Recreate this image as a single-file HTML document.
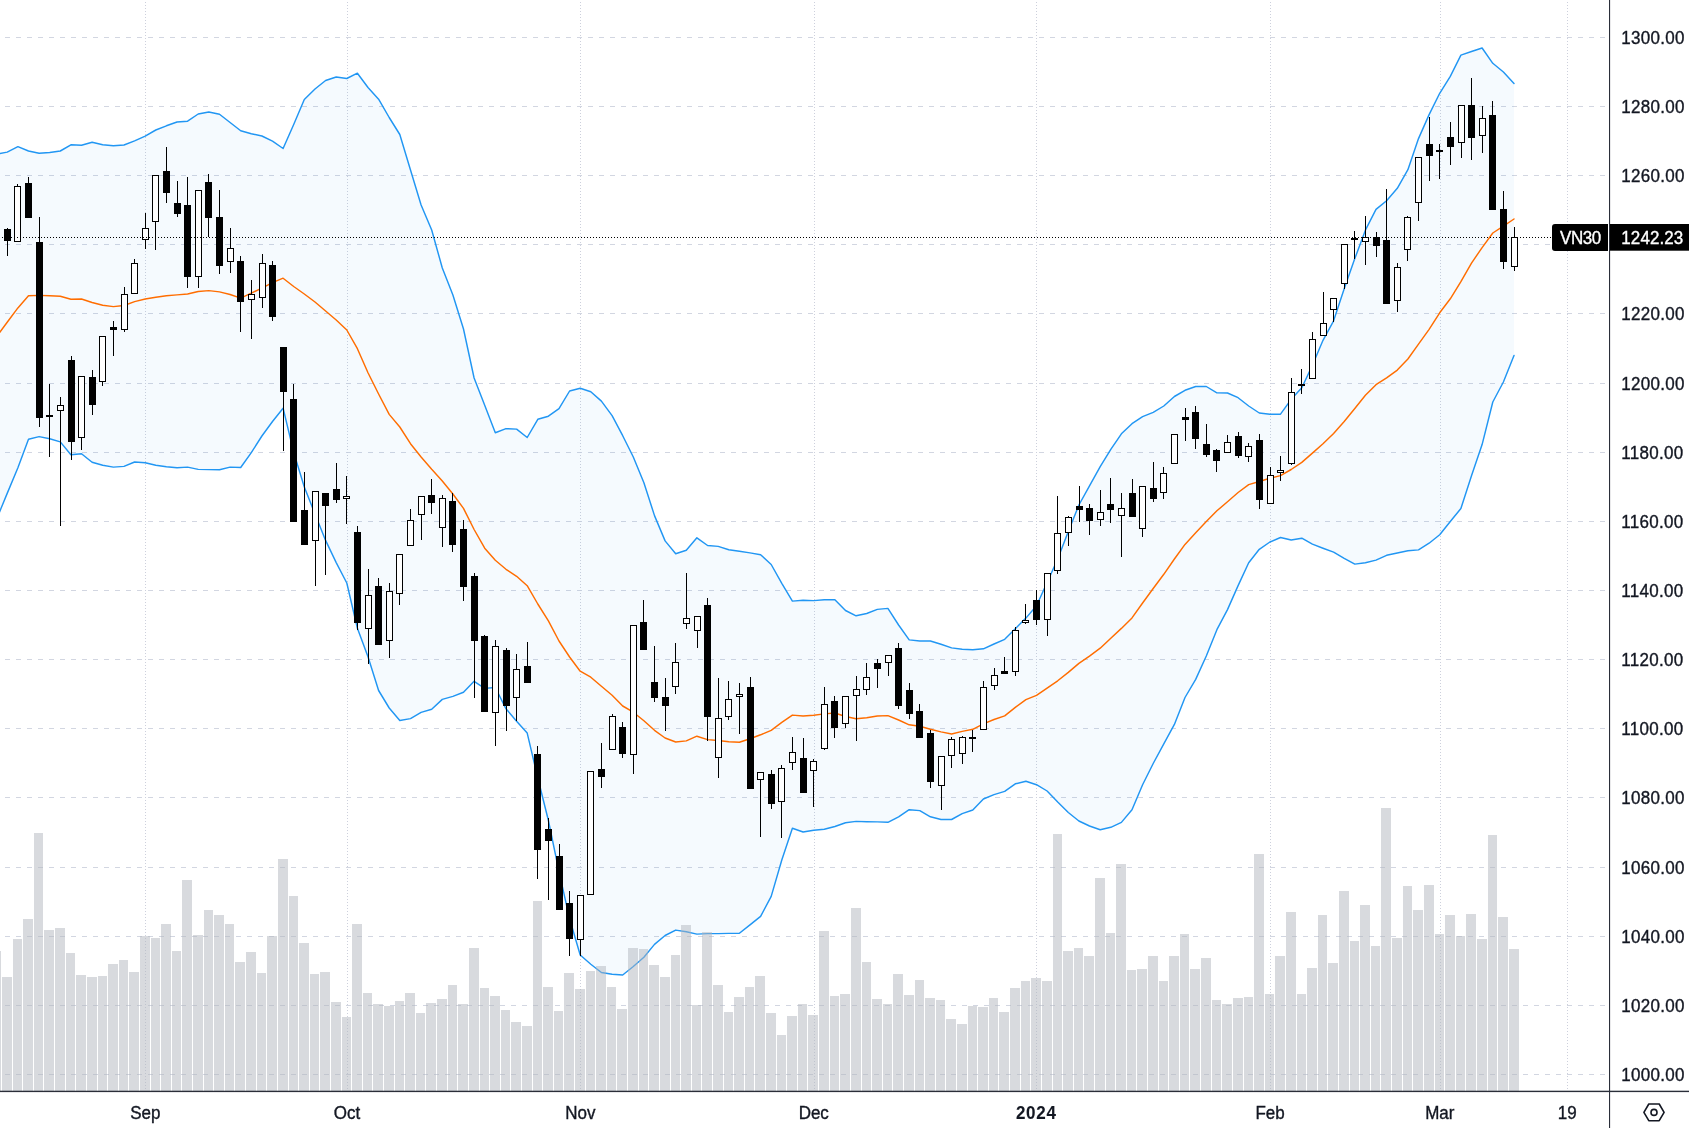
<!DOCTYPE html>
<html lang="en"><head><meta charset="utf-8"><title>VN30</title>
<style>html,body{margin:0;padding:0;background:#fff}svg{display:block;will-change:transform}text{font-family:"Liberation Sans",sans-serif;font-size:17px;fill:#131722}</style>
</head><body>
<svg width="1689" height="1128" viewBox="0 0 1689 1128">
<rect width="1689" height="1128" fill="#fff"/>
<g stroke="#d2d6e1" stroke-width="1" shape-rendering="crispEdges">
<line x1="5" y1="37.5" x2="1605" y2="37.5" stroke-dasharray="5 6"/>
<line x1="5" y1="106.5" x2="1605" y2="106.5" stroke-dasharray="5 6"/>
<line x1="5" y1="175.5" x2="1605" y2="175.5" stroke-dasharray="5 6"/>
<line x1="5" y1="244.5" x2="1605" y2="244.5" stroke-dasharray="5 6"/>
<line x1="5" y1="313.5" x2="1605" y2="313.5" stroke-dasharray="5 6"/>
<line x1="5" y1="383.5" x2="1605" y2="383.5" stroke-dasharray="5 6"/>
<line x1="5" y1="452.5" x2="1605" y2="452.5" stroke-dasharray="5 6"/>
<line x1="5" y1="521.5" x2="1605" y2="521.5" stroke-dasharray="5 6"/>
<line x1="5" y1="590.5" x2="1605" y2="590.5" stroke-dasharray="5 6"/>
<line x1="5" y1="659.5" x2="1605" y2="659.5" stroke-dasharray="5 6"/>
<line x1="5" y1="728.5" x2="1605" y2="728.5" stroke-dasharray="5 6"/>
<line x1="5" y1="797.5" x2="1605" y2="797.5" stroke-dasharray="5 6"/>
<line x1="5" y1="867.5" x2="1605" y2="867.5" stroke-dasharray="5 6"/>
<line x1="5" y1="936.5" x2="1605" y2="936.5" stroke-dasharray="5 6"/>
<line x1="5" y1="1005.5" x2="1605" y2="1005.5" stroke-dasharray="5 6"/>
<line x1="5" y1="1074.5" x2="1605" y2="1074.5" stroke-dasharray="5 6"/>
</g>
<g stroke="#cdd0dc" stroke-width="1" shape-rendering="crispEdges">
<line x1="145.5" y1="2" x2="145.5" y2="1091" stroke-dasharray="1 2"/>
<line x1="347.5" y1="2" x2="347.5" y2="1091" stroke-dasharray="1 2"/>
<line x1="580.5" y1="2" x2="580.5" y2="1091" stroke-dasharray="1 2"/>
<line x1="814.5" y1="2" x2="814.5" y2="1091" stroke-dasharray="1 2"/>
<line x1="1036.5" y1="2" x2="1036.5" y2="1091" stroke-dasharray="1 2"/>
<line x1="1270.5" y1="2" x2="1270.5" y2="1091" stroke-dasharray="1 2"/>
<line x1="1440.5" y1="2" x2="1440.5" y2="1091" stroke-dasharray="1 2"/>
<line x1="1567.5" y1="2" x2="1567.5" y2="1091" stroke-dasharray="1 2"/>
</g>
<polygon points="-3.4,154.0 7.2,152.1 17.9,146.7 28.5,151.0 39.1,153.3 49.7,152.5 60.3,151.0 70.9,144.8 81.5,145.3 92.1,142.3 102.7,144.8 113.4,145.7 124.0,145.0 134.6,140.9 145.2,136.2 155.8,130.0 166.4,125.8 177.0,122.0 187.6,121.2 198.2,114.0 208.8,112.0 219.5,114.2 230.1,122.5 240.7,130.8 251.3,133.8 261.9,136.0 272.5,141.2 283.1,148.5 293.7,124.5 304.3,99.5 315.0,89.0 325.6,80.5 336.2,77.0 346.8,78.5 357.4,73.2 368.0,87.5 378.6,99.2 389.2,117.5 399.8,134.5 410.5,170.0 421.1,205.0 431.7,230.0 442.3,268.0 452.9,295.0 463.5,329.0 474.1,378.0 484.7,405.3 495.3,432.7 506.0,428.6 516.6,429.1 527.2,437.5 537.8,419.3 548.4,416.2 559.0,408.7 569.6,391.0 580.2,388.3 590.8,391.7 601.4,401.1 612.1,415.6 622.7,435.7 633.3,457.0 643.9,482.8 654.5,515.6 665.1,540.9 675.7,553.8 686.3,550.3 696.9,537.8 707.6,545.5 718.2,546.4 728.8,549.7 739.4,551.2 750.0,552.9 760.6,554.7 771.2,564.5 781.8,583.3 792.4,601.1 803.1,600.2 813.7,600.6 824.3,599.8 834.9,599.7 845.5,610.5 856.1,615.8 866.7,613.5 877.3,609.4 887.9,608.4 898.6,625.0 909.2,639.9 919.8,641.0 930.4,641.0 941.0,644.3 951.6,647.9 962.2,649.3 972.8,649.7 983.4,648.8 994.0,644.0 1004.7,639.3 1015.3,628.8 1025.9,618.1 1036.5,605.7 1047.1,582.5 1057.7,559.0 1068.3,531.5 1078.9,505.0 1089.5,485.8 1100.2,466.7 1110.8,449.3 1121.4,433.8 1132.0,423.7 1142.6,416.6 1153.2,412.3 1163.8,406.0 1174.4,396.5 1185.0,390.3 1195.7,386.5 1206.3,386.5 1216.9,392.9 1227.5,393.0 1238.1,397.7 1248.7,406.0 1259.3,413.0 1269.9,414.2 1280.5,414.2 1291.2,399.3 1301.8,387.8 1312.4,365.2 1323.0,340.3 1333.6,320.8 1344.2,288.8 1354.8,258.6 1365.4,230.2 1376.0,209.4 1386.6,200.7 1397.3,188.3 1407.9,169.7 1418.5,138.6 1429.1,114.6 1439.7,93.3 1450.3,76.4 1460.9,55.1 1471.5,51.5 1482.1,48.0 1492.8,63.3 1503.4,72.0 1514.0,83.4 1514.0,355.5 1503.4,382.0 1492.8,402.0 1482.1,444.6 1471.5,475.7 1460.9,508.5 1450.3,521.5 1439.7,534.8 1429.1,543.2 1418.5,549.9 1407.9,550.8 1397.3,553.0 1386.6,555.3 1376.0,560.1 1365.4,562.7 1354.8,564.1 1344.2,558.3 1333.6,552.1 1323.0,548.2 1312.4,544.1 1301.8,538.2 1291.2,540.0 1280.5,537.5 1269.9,542.0 1259.3,549.3 1248.7,562.8 1238.1,585.6 1227.5,609.6 1216.9,629.7 1206.3,656.0 1195.7,679.4 1185.0,697.5 1174.4,724.4 1163.8,743.8 1153.2,763.5 1142.6,784.8 1132.0,809.7 1121.4,822.4 1110.8,827.3 1100.2,829.7 1089.5,826.0 1078.9,821.0 1068.3,812.5 1057.7,802.0 1047.1,791.0 1036.5,784.7 1025.9,781.3 1015.3,783.8 1004.7,791.4 994.0,794.6 983.4,799.0 972.8,810.0 962.2,813.6 951.6,819.5 941.0,819.5 930.4,816.8 919.8,810.6 909.2,809.7 898.6,816.8 887.9,822.3 877.3,821.9 866.7,821.7 856.1,821.4 845.5,822.7 834.9,826.5 824.3,829.3 813.7,830.2 803.1,832.0 792.4,828.3 781.8,860.0 771.2,896.4 760.6,916.4 750.0,924.9 739.4,933.3 728.8,933.4 718.2,933.6 707.6,933.6 696.9,934.1 686.3,931.8 675.7,930.1 665.1,935.5 654.5,944.4 643.9,957.2 633.3,966.5 622.7,975.0 612.1,974.2 601.4,972.5 590.8,964.2 580.2,955.0 569.6,918.8 559.0,871.7 548.4,820.5 537.8,778.0 527.2,733.1 516.6,721.2 506.0,708.8 495.3,687.5 484.7,688.4 474.1,681.3 463.5,692.3 452.9,696.4 442.3,699.4 431.7,709.2 421.1,712.4 410.5,718.6 399.8,720.5 389.2,708.0 378.6,690.5 368.0,656.7 357.4,628.3 346.8,583.0 336.2,562.6 325.6,540.4 315.0,514.0 304.3,487.0 293.7,452.4 283.1,408.2 272.5,421.5 261.9,436.0 251.3,452.6 240.7,467.5 230.1,467.1 219.5,469.8 208.8,469.6 198.2,469.4 187.6,467.1 177.0,467.7 166.4,466.8 155.8,465.3 145.2,462.7 134.6,462.0 124.0,466.4 113.4,467.1 102.7,465.3 92.1,462.3 81.5,453.8 70.9,454.7 60.3,441.9 49.7,438.7 39.1,436.6 28.5,439.2 17.9,467.7 7.2,493.4 -3.4,519.0" fill="#2196f3" fill-opacity="0.045"/>
<polyline points="-3.4,336.5 7.2,322.2 17.9,307.9 28.5,295.8 39.1,295.4 49.7,295.8 60.3,296.3 70.9,299.3 81.5,299.0 92.1,302.5 102.7,305.2 113.4,306.6 124.0,305.5 134.6,301.6 145.2,299.0 155.8,297.2 166.4,295.8 177.0,294.9 187.6,294.0 198.2,291.5 208.8,290.6 219.5,291.9 230.1,294.5 240.7,298.1 251.3,293.1 261.9,288.1 272.5,282.6 283.1,278.2 293.7,286.5 304.3,294.0 315.0,302.0 325.6,311.0 336.2,320.0 346.8,330.0 357.4,348.7 368.0,372.8 378.6,394.0 389.2,414.4 399.8,427.0 410.5,443.7 421.1,457.0 431.7,469.3 442.3,481.0 452.9,494.0 463.5,508.4 474.1,529.5 484.7,548.2 495.3,560.3 506.0,569.3 516.6,576.3 527.2,585.7 537.8,604.0 548.4,620.8 559.0,641.0 569.6,657.0 580.2,671.2 590.8,677.2 601.4,686.3 612.1,695.3 622.7,706.0 633.3,712.2 643.9,720.7 654.5,730.3 665.1,738.0 675.7,742.0 686.3,740.9 696.9,736.2 707.6,739.6 718.2,740.5 728.8,741.8 739.4,742.3 750.0,738.7 760.6,734.8 771.2,730.4 781.8,722.4 792.4,715.1 803.1,716.0 813.7,715.3 824.3,713.9 834.9,713.0 845.5,716.5 856.1,718.7 866.7,717.8 877.3,716.0 887.9,715.6 898.6,720.0 909.2,724.8 919.8,726.2 930.4,729.2 941.0,731.9 951.6,734.0 962.2,731.4 972.8,729.3 983.4,723.9 994.0,719.5 1004.7,715.9 1015.3,707.4 1025.9,699.7 1036.5,695.4 1047.1,688.1 1057.7,680.8 1068.3,672.4 1078.9,663.4 1089.5,656.1 1100.2,648.2 1110.8,638.2 1121.4,628.4 1132.0,617.9 1142.6,603.0 1153.2,588.5 1163.8,574.3 1174.4,559.0 1185.0,544.4 1195.7,532.7 1206.3,521.5 1216.9,510.8 1227.5,501.7 1238.1,492.5 1248.7,484.6 1259.3,481.5 1269.9,478.2 1280.5,475.6 1291.2,469.5 1301.8,462.4 1312.4,453.1 1323.0,443.7 1333.6,433.4 1344.2,421.5 1354.8,408.5 1365.4,395.2 1376.0,384.7 1386.6,377.9 1397.3,370.1 1407.9,359.0 1418.5,344.2 1429.1,329.3 1439.7,312.8 1450.3,298.8 1460.9,281.7 1471.5,263.1 1482.1,247.6 1492.8,233.0 1503.4,226.1 1514.0,219.0" fill="none" stroke="#ff6d00" stroke-width="1.45" stroke-linejoin="round" stroke-linecap="round"/>
<polyline points="-3.4,154.0 7.2,152.1 17.9,146.7 28.5,151.0 39.1,153.3 49.7,152.5 60.3,151.0 70.9,144.8 81.5,145.3 92.1,142.3 102.7,144.8 113.4,145.7 124.0,145.0 134.6,140.9 145.2,136.2 155.8,130.0 166.4,125.8 177.0,122.0 187.6,121.2 198.2,114.0 208.8,112.0 219.5,114.2 230.1,122.5 240.7,130.8 251.3,133.8 261.9,136.0 272.5,141.2 283.1,148.5 293.7,124.5 304.3,99.5 315.0,89.0 325.6,80.5 336.2,77.0 346.8,78.5 357.4,73.2 368.0,87.5 378.6,99.2 389.2,117.5 399.8,134.5 410.5,170.0 421.1,205.0 431.7,230.0 442.3,268.0 452.9,295.0 463.5,329.0 474.1,378.0 484.7,405.3 495.3,432.7 506.0,428.6 516.6,429.1 527.2,437.5 537.8,419.3 548.4,416.2 559.0,408.7 569.6,391.0 580.2,388.3 590.8,391.7 601.4,401.1 612.1,415.6 622.7,435.7 633.3,457.0 643.9,482.8 654.5,515.6 665.1,540.9 675.7,553.8 686.3,550.3 696.9,537.8 707.6,545.5 718.2,546.4 728.8,549.7 739.4,551.2 750.0,552.9 760.6,554.7 771.2,564.5 781.8,583.3 792.4,601.1 803.1,600.2 813.7,600.6 824.3,599.8 834.9,599.7 845.5,610.5 856.1,615.8 866.7,613.5 877.3,609.4 887.9,608.4 898.6,625.0 909.2,639.9 919.8,641.0 930.4,641.0 941.0,644.3 951.6,647.9 962.2,649.3 972.8,649.7 983.4,648.8 994.0,644.0 1004.7,639.3 1015.3,628.8 1025.9,618.1 1036.5,605.7 1047.1,582.5 1057.7,559.0 1068.3,531.5 1078.9,505.0 1089.5,485.8 1100.2,466.7 1110.8,449.3 1121.4,433.8 1132.0,423.7 1142.6,416.6 1153.2,412.3 1163.8,406.0 1174.4,396.5 1185.0,390.3 1195.7,386.5 1206.3,386.5 1216.9,392.9 1227.5,393.0 1238.1,397.7 1248.7,406.0 1259.3,413.0 1269.9,414.2 1280.5,414.2 1291.2,399.3 1301.8,387.8 1312.4,365.2 1323.0,340.3 1333.6,320.8 1344.2,288.8 1354.8,258.6 1365.4,230.2 1376.0,209.4 1386.6,200.7 1397.3,188.3 1407.9,169.7 1418.5,138.6 1429.1,114.6 1439.7,93.3 1450.3,76.4 1460.9,55.1 1471.5,51.5 1482.1,48.0 1492.8,63.3 1503.4,72.0 1514.0,83.4" fill="none" stroke="#2196f3" stroke-width="1.45" stroke-linejoin="round" stroke-linecap="round"/>
<polyline points="-3.4,519.0 7.2,493.4 17.9,467.7 28.5,439.2 39.1,436.6 49.7,438.7 60.3,441.9 70.9,454.7 81.5,453.8 92.1,462.3 102.7,465.3 113.4,467.1 124.0,466.4 134.6,462.0 145.2,462.7 155.8,465.3 166.4,466.8 177.0,467.7 187.6,467.1 198.2,469.4 208.8,469.6 219.5,469.8 230.1,467.1 240.7,467.5 251.3,452.6 261.9,436.0 272.5,421.5 283.1,408.2 293.7,452.4 304.3,487.0 315.0,514.0 325.6,540.4 336.2,562.6 346.8,583.0 357.4,628.3 368.0,656.7 378.6,690.5 389.2,708.0 399.8,720.5 410.5,718.6 421.1,712.4 431.7,709.2 442.3,699.4 452.9,696.4 463.5,692.3 474.1,681.3 484.7,688.4 495.3,687.5 506.0,708.8 516.6,721.2 527.2,733.1 537.8,778.0 548.4,820.5 559.0,871.7 569.6,918.8 580.2,955.0 590.8,964.2 601.4,972.5 612.1,974.2 622.7,975.0 633.3,966.5 643.9,957.2 654.5,944.4 665.1,935.5 675.7,930.1 686.3,931.8 696.9,934.1 707.6,933.6 718.2,933.6 728.8,933.4 739.4,933.3 750.0,924.9 760.6,916.4 771.2,896.4 781.8,860.0 792.4,828.3 803.1,832.0 813.7,830.2 824.3,829.3 834.9,826.5 845.5,822.7 856.1,821.4 866.7,821.7 877.3,821.9 887.9,822.3 898.6,816.8 909.2,809.7 919.8,810.6 930.4,816.8 941.0,819.5 951.6,819.5 962.2,813.6 972.8,810.0 983.4,799.0 994.0,794.6 1004.7,791.4 1015.3,783.8 1025.9,781.3 1036.5,784.7 1047.1,791.0 1057.7,802.0 1068.3,812.5 1078.9,821.0 1089.5,826.0 1100.2,829.7 1110.8,827.3 1121.4,822.4 1132.0,809.7 1142.6,784.8 1153.2,763.5 1163.8,743.8 1174.4,724.4 1185.0,697.5 1195.7,679.4 1206.3,656.0 1216.9,629.7 1227.5,609.6 1238.1,585.6 1248.7,562.8 1259.3,549.3 1269.9,542.0 1280.5,537.5 1291.2,540.0 1301.8,538.2 1312.4,544.1 1323.0,548.2 1333.6,552.1 1344.2,558.3 1354.8,564.1 1365.4,562.7 1376.0,560.1 1386.6,555.3 1397.3,553.0 1407.9,550.8 1418.5,549.9 1429.1,543.2 1439.7,534.8 1450.3,521.5 1460.9,508.5 1471.5,475.7 1482.1,444.6 1492.8,402.0 1503.4,382.0 1514.0,355.5" fill="none" stroke="#2196f3" stroke-width="1.45" stroke-linejoin="round" stroke-linecap="round"/>
<g fill="#b2b5be" fill-opacity="0.5" shape-rendering="crispEdges">
<rect x="-9" y="951" width="10" height="140"/>
<rect x="2" y="977" width="10" height="114"/>
<rect x="13" y="939" width="9" height="152"/>
<rect x="23" y="919" width="10" height="172"/>
<rect x="34" y="833" width="9" height="258"/>
<rect x="44" y="930" width="10" height="161"/>
<rect x="55" y="928" width="10" height="163"/>
<rect x="66" y="953" width="9" height="138"/>
<rect x="76" y="975" width="10" height="116"/>
<rect x="87" y="977" width="10" height="114"/>
<rect x="98" y="976" width="9" height="115"/>
<rect x="108" y="964" width="10" height="127"/>
<rect x="119" y="960" width="9" height="131"/>
<rect x="129" y="972" width="10" height="119"/>
<rect x="140" y="936" width="10" height="155"/>
<rect x="151" y="938" width="9" height="153"/>
<rect x="161" y="924" width="10" height="167"/>
<rect x="172" y="951" width="9" height="140"/>
<rect x="182" y="880" width="10" height="211"/>
<rect x="193" y="935" width="10" height="156"/>
<rect x="204" y="910" width="9" height="181"/>
<rect x="214" y="915" width="10" height="176"/>
<rect x="225" y="924" width="9" height="167"/>
<rect x="235" y="962" width="10" height="129"/>
<rect x="246" y="952" width="10" height="139"/>
<rect x="257" y="973" width="9" height="118"/>
<rect x="267" y="936" width="10" height="155"/>
<rect x="278" y="859" width="10" height="232"/>
<rect x="289" y="896" width="9" height="195"/>
<rect x="299" y="943" width="10" height="148"/>
<rect x="310" y="974" width="9" height="117"/>
<rect x="320" y="972" width="10" height="119"/>
<rect x="331" y="1002" width="10" height="89"/>
<rect x="342" y="1017" width="9" height="74"/>
<rect x="352" y="924" width="10" height="167"/>
<rect x="363" y="993" width="9" height="98"/>
<rect x="373" y="1004" width="10" height="87"/>
<rect x="384" y="1006" width="10" height="85"/>
<rect x="395" y="1001" width="9" height="90"/>
<rect x="405" y="993" width="10" height="98"/>
<rect x="416" y="1013" width="9" height="78"/>
<rect x="426" y="1003" width="10" height="88"/>
<rect x="437" y="999" width="10" height="92"/>
<rect x="448" y="985" width="9" height="106"/>
<rect x="458" y="1004" width="10" height="87"/>
<rect x="469" y="948" width="10" height="143"/>
<rect x="480" y="988" width="9" height="103"/>
<rect x="490" y="996" width="10" height="95"/>
<rect x="501" y="1010" width="9" height="81"/>
<rect x="511" y="1022" width="10" height="69"/>
<rect x="522" y="1026" width="10" height="65"/>
<rect x="533" y="901" width="9" height="190"/>
<rect x="543" y="987" width="10" height="104"/>
<rect x="554" y="1011" width="9" height="80"/>
<rect x="564" y="973" width="10" height="118"/>
<rect x="575" y="989" width="10" height="102"/>
<rect x="586" y="971" width="9" height="120"/>
<rect x="596" y="966" width="10" height="125"/>
<rect x="607" y="987" width="9" height="104"/>
<rect x="617" y="1009" width="10" height="82"/>
<rect x="628" y="948" width="10" height="143"/>
<rect x="639" y="949" width="9" height="142"/>
<rect x="649" y="965" width="10" height="126"/>
<rect x="660" y="977" width="10" height="114"/>
<rect x="671" y="955" width="9" height="136"/>
<rect x="681" y="925" width="10" height="166"/>
<rect x="692" y="1005" width="9" height="86"/>
<rect x="702" y="932" width="10" height="159"/>
<rect x="713" y="985" width="10" height="106"/>
<rect x="724" y="1012" width="9" height="79"/>
<rect x="734" y="997" width="10" height="94"/>
<rect x="745" y="987" width="9" height="104"/>
<rect x="755" y="976" width="10" height="115"/>
<rect x="766" y="1013" width="10" height="78"/>
<rect x="777" y="1035" width="9" height="56"/>
<rect x="787" y="1016" width="10" height="75"/>
<rect x="798" y="1004" width="9" height="87"/>
<rect x="808" y="1015" width="10" height="76"/>
<rect x="819" y="931" width="10" height="160"/>
<rect x="830" y="996" width="9" height="95"/>
<rect x="840" y="994" width="10" height="97"/>
<rect x="851" y="908" width="10" height="183"/>
<rect x="862" y="962" width="9" height="129"/>
<rect x="872" y="999" width="10" height="92"/>
<rect x="883" y="1004" width="9" height="87"/>
<rect x="893" y="974" width="10" height="117"/>
<rect x="904" y="995" width="10" height="96"/>
<rect x="915" y="980" width="9" height="111"/>
<rect x="925" y="998" width="10" height="93"/>
<rect x="936" y="1000" width="9" height="91"/>
<rect x="946" y="1019" width="10" height="72"/>
<rect x="957" y="1024" width="10" height="67"/>
<rect x="968" y="1006" width="9" height="85"/>
<rect x="978" y="1007" width="10" height="84"/>
<rect x="989" y="998" width="9" height="93"/>
<rect x="999" y="1012" width="10" height="79"/>
<rect x="1010" y="988" width="10" height="103"/>
<rect x="1021" y="981" width="9" height="110"/>
<rect x="1031" y="978" width="10" height="113"/>
<rect x="1042" y="981" width="10" height="110"/>
<rect x="1053" y="834" width="9" height="257"/>
<rect x="1063" y="951" width="10" height="140"/>
<rect x="1074" y="948" width="9" height="143"/>
<rect x="1084" y="956" width="10" height="135"/>
<rect x="1095" y="878" width="10" height="213"/>
<rect x="1106" y="933" width="9" height="158"/>
<rect x="1116" y="864" width="10" height="227"/>
<rect x="1127" y="970" width="9" height="121"/>
<rect x="1137" y="969" width="10" height="122"/>
<rect x="1148" y="956" width="10" height="135"/>
<rect x="1159" y="981" width="9" height="110"/>
<rect x="1169" y="956" width="10" height="135"/>
<rect x="1180" y="934" width="9" height="157"/>
<rect x="1190" y="969" width="10" height="122"/>
<rect x="1201" y="958" width="10" height="133"/>
<rect x="1212" y="1000" width="9" height="91"/>
<rect x="1222" y="1004" width="10" height="87"/>
<rect x="1233" y="998" width="10" height="93"/>
<rect x="1244" y="997" width="9" height="94"/>
<rect x="1254" y="854" width="10" height="237"/>
<rect x="1265" y="994" width="9" height="97"/>
<rect x="1275" y="956" width="10" height="135"/>
<rect x="1286" y="912" width="10" height="179"/>
<rect x="1297" y="994" width="9" height="97"/>
<rect x="1307" y="968" width="10" height="123"/>
<rect x="1318" y="915" width="9" height="176"/>
<rect x="1328" y="963" width="10" height="128"/>
<rect x="1339" y="891" width="10" height="200"/>
<rect x="1350" y="941" width="9" height="150"/>
<rect x="1360" y="905" width="10" height="186"/>
<rect x="1371" y="946" width="9" height="145"/>
<rect x="1381" y="808" width="10" height="283"/>
<rect x="1392" y="938" width="10" height="153"/>
<rect x="1403" y="886" width="9" height="205"/>
<rect x="1413" y="910" width="10" height="181"/>
<rect x="1424" y="885" width="10" height="206"/>
<rect x="1435" y="934" width="9" height="157"/>
<rect x="1445" y="915" width="10" height="176"/>
<rect x="1456" y="936" width="9" height="155"/>
<rect x="1466" y="914" width="10" height="177"/>
<rect x="1477" y="939" width="10" height="152"/>
<rect x="1488" y="835" width="9" height="256"/>
<rect x="1498" y="917" width="10" height="174"/>
<rect x="1509" y="949" width="10" height="142"/>
</g>
<g shape-rendering="crispEdges">
<rect x="7" y="228" width="1" height="28" fill="#000"/>
<rect x="4" y="229" width="7" height="12" fill="#000"/>
<rect x="17" y="184" width="1" height="58" fill="#000"/>
<rect x="14" y="186" width="7" height="56" fill="#000"/>
<rect x="15" y="187" width="5" height="54" fill="#fff"/>
<rect x="28" y="177" width="1" height="41" fill="#000"/>
<rect x="25" y="183" width="7" height="35" fill="#000"/>
<rect x="39" y="217" width="1" height="210" fill="#000"/>
<rect x="36" y="242" width="7" height="176" fill="#000"/>
<rect x="49" y="384" width="1" height="73" fill="#000"/>
<rect x="46" y="415" width="7" height="2" fill="#000"/>
<rect x="60" y="397" width="1" height="129" fill="#000"/>
<rect x="57" y="405" width="7" height="6" fill="#000"/>
<rect x="58" y="406" width="5" height="4" fill="#fff"/>
<rect x="71" y="356" width="1" height="104" fill="#000"/>
<rect x="68" y="360" width="7" height="82" fill="#000"/>
<rect x="81" y="376" width="1" height="74" fill="#000"/>
<rect x="78" y="376" width="7" height="62" fill="#000"/>
<rect x="79" y="377" width="5" height="60" fill="#fff"/>
<rect x="92" y="370" width="1" height="45" fill="#000"/>
<rect x="89" y="377" width="7" height="28" fill="#000"/>
<rect x="102" y="336" width="1" height="50" fill="#000"/>
<rect x="99" y="336" width="7" height="46" fill="#000"/>
<rect x="100" y="337" width="5" height="44" fill="#fff"/>
<rect x="113" y="321" width="1" height="35" fill="#000"/>
<rect x="110" y="327" width="7" height="3" fill="#000"/>
<rect x="124" y="287" width="1" height="45" fill="#000"/>
<rect x="121" y="294" width="7" height="36" fill="#000"/>
<rect x="122" y="295" width="5" height="34" fill="#fff"/>
<rect x="134" y="259" width="1" height="35" fill="#000"/>
<rect x="131" y="263" width="7" height="31" fill="#000"/>
<rect x="132" y="264" width="5" height="29" fill="#fff"/>
<rect x="145" y="213" width="1" height="36" fill="#000"/>
<rect x="142" y="228" width="7" height="12" fill="#000"/>
<rect x="143" y="229" width="5" height="10" fill="#fff"/>
<rect x="155" y="175" width="1" height="75" fill="#000"/>
<rect x="152" y="175" width="7" height="47" fill="#000"/>
<rect x="153" y="176" width="5" height="45" fill="#fff"/>
<rect x="166" y="147" width="1" height="56" fill="#000"/>
<rect x="163" y="171" width="7" height="22" fill="#000"/>
<rect x="177" y="181" width="1" height="36" fill="#000"/>
<rect x="174" y="203" width="7" height="11" fill="#000"/>
<rect x="187" y="177" width="1" height="111" fill="#000"/>
<rect x="184" y="205" width="7" height="72" fill="#000"/>
<rect x="198" y="190" width="1" height="98" fill="#000"/>
<rect x="195" y="190" width="7" height="87" fill="#000"/>
<rect x="196" y="191" width="5" height="85" fill="#fff"/>
<rect x="208" y="174" width="1" height="63" fill="#000"/>
<rect x="205" y="182" width="7" height="36" fill="#000"/>
<rect x="219" y="190" width="1" height="84" fill="#000"/>
<rect x="216" y="217" width="7" height="49" fill="#000"/>
<rect x="230" y="228" width="1" height="45" fill="#000"/>
<rect x="227" y="248" width="7" height="14" fill="#000"/>
<rect x="228" y="249" width="5" height="12" fill="#fff"/>
<rect x="240" y="256" width="1" height="76" fill="#000"/>
<rect x="237" y="261" width="7" height="41" fill="#000"/>
<rect x="251" y="280" width="1" height="59" fill="#000"/>
<rect x="248" y="294" width="7" height="6" fill="#000"/>
<rect x="249" y="295" width="5" height="4" fill="#fff"/>
<rect x="262" y="254" width="1" height="54" fill="#000"/>
<rect x="259" y="263" width="7" height="35" fill="#000"/>
<rect x="260" y="264" width="5" height="33" fill="#fff"/>
<rect x="272" y="261" width="1" height="60" fill="#000"/>
<rect x="269" y="265" width="7" height="52" fill="#000"/>
<rect x="283" y="347" width="1" height="104" fill="#000"/>
<rect x="280" y="347" width="7" height="45" fill="#000"/>
<rect x="293" y="384" width="1" height="138" fill="#000"/>
<rect x="290" y="399" width="7" height="123" fill="#000"/>
<rect x="304" y="472" width="1" height="73" fill="#000"/>
<rect x="301" y="510" width="7" height="35" fill="#000"/>
<rect x="315" y="491" width="1" height="95" fill="#000"/>
<rect x="312" y="491" width="7" height="50" fill="#000"/>
<rect x="313" y="492" width="5" height="48" fill="#fff"/>
<rect x="325" y="493" width="1" height="82" fill="#000"/>
<rect x="322" y="493" width="7" height="13" fill="#000"/>
<rect x="336" y="463" width="1" height="40" fill="#000"/>
<rect x="333" y="489" width="7" height="11" fill="#000"/>
<rect x="346" y="476" width="1" height="48" fill="#000"/>
<rect x="343" y="496" width="7" height="3" fill="#000"/>
<rect x="344" y="497" width="5" height="1" fill="#fff"/>
<rect x="357" y="526" width="1" height="104" fill="#000"/>
<rect x="354" y="532" width="7" height="91" fill="#000"/>
<rect x="368" y="569" width="1" height="95" fill="#000"/>
<rect x="365" y="595" width="7" height="34" fill="#000"/>
<rect x="366" y="596" width="5" height="32" fill="#fff"/>
<rect x="378" y="578" width="1" height="67" fill="#000"/>
<rect x="375" y="586" width="7" height="59" fill="#000"/>
<rect x="389" y="583" width="1" height="75" fill="#000"/>
<rect x="386" y="591" width="7" height="50" fill="#000"/>
<rect x="387" y="592" width="5" height="48" fill="#fff"/>
<rect x="399" y="554" width="1" height="51" fill="#000"/>
<rect x="396" y="554" width="7" height="40" fill="#000"/>
<rect x="397" y="555" width="5" height="38" fill="#fff"/>
<rect x="410" y="509" width="1" height="37" fill="#000"/>
<rect x="407" y="520" width="7" height="26" fill="#000"/>
<rect x="408" y="521" width="5" height="24" fill="#fff"/>
<rect x="421" y="496" width="1" height="44" fill="#000"/>
<rect x="418" y="496" width="7" height="19" fill="#000"/>
<rect x="419" y="497" width="5" height="17" fill="#fff"/>
<rect x="431" y="479" width="1" height="35" fill="#000"/>
<rect x="428" y="495" width="7" height="8" fill="#000"/>
<rect x="442" y="495" width="1" height="52" fill="#000"/>
<rect x="439" y="498" width="7" height="30" fill="#000"/>
<rect x="440" y="499" width="5" height="28" fill="#fff"/>
<rect x="452" y="493" width="1" height="59" fill="#000"/>
<rect x="449" y="501" width="7" height="44" fill="#000"/>
<rect x="463" y="520" width="1" height="81" fill="#000"/>
<rect x="460" y="529" width="7" height="58" fill="#000"/>
<rect x="474" y="573" width="1" height="125" fill="#000"/>
<rect x="471" y="576" width="7" height="65" fill="#000"/>
<rect x="484" y="635" width="1" height="77" fill="#000"/>
<rect x="481" y="636" width="7" height="76" fill="#000"/>
<rect x="495" y="640" width="1" height="106" fill="#000"/>
<rect x="492" y="646" width="7" height="67" fill="#000"/>
<rect x="493" y="647" width="5" height="65" fill="#fff"/>
<rect x="506" y="648" width="1" height="83" fill="#000"/>
<rect x="503" y="650" width="7" height="56" fill="#000"/>
<rect x="516" y="654" width="1" height="67" fill="#000"/>
<rect x="513" y="669" width="7" height="29" fill="#000"/>
<rect x="514" y="670" width="5" height="27" fill="#fff"/>
<rect x="527" y="642" width="1" height="41" fill="#000"/>
<rect x="524" y="666" width="7" height="17" fill="#000"/>
<rect x="537" y="746" width="1" height="133" fill="#000"/>
<rect x="534" y="754" width="7" height="96" fill="#000"/>
<rect x="548" y="818" width="1" height="82" fill="#000"/>
<rect x="545" y="829" width="7" height="12" fill="#000"/>
<rect x="559" y="844" width="1" height="66" fill="#000"/>
<rect x="556" y="856" width="7" height="54" fill="#000"/>
<rect x="569" y="891" width="1" height="65" fill="#000"/>
<rect x="566" y="903" width="7" height="36" fill="#000"/>
<rect x="580" y="895" width="1" height="61" fill="#000"/>
<rect x="577" y="895" width="7" height="45" fill="#000"/>
<rect x="578" y="896" width="5" height="43" fill="#fff"/>
<rect x="590" y="771" width="1" height="124" fill="#000"/>
<rect x="587" y="771" width="7" height="124" fill="#000"/>
<rect x="588" y="772" width="5" height="122" fill="#fff"/>
<rect x="601" y="743" width="1" height="45" fill="#000"/>
<rect x="598" y="769" width="7" height="8" fill="#000"/>
<rect x="612" y="714" width="1" height="36" fill="#000"/>
<rect x="609" y="716" width="7" height="34" fill="#000"/>
<rect x="610" y="717" width="5" height="32" fill="#fff"/>
<rect x="622" y="722" width="1" height="36" fill="#000"/>
<rect x="619" y="727" width="7" height="27" fill="#000"/>
<rect x="633" y="625" width="1" height="149" fill="#000"/>
<rect x="630" y="625" width="7" height="130" fill="#000"/>
<rect x="631" y="626" width="5" height="128" fill="#fff"/>
<rect x="643" y="600" width="1" height="50" fill="#000"/>
<rect x="640" y="622" width="7" height="28" fill="#000"/>
<rect x="654" y="646" width="1" height="56" fill="#000"/>
<rect x="651" y="682" width="7" height="16" fill="#000"/>
<rect x="665" y="678" width="1" height="53" fill="#000"/>
<rect x="662" y="697" width="7" height="9" fill="#000"/>
<rect x="675" y="643" width="1" height="51" fill="#000"/>
<rect x="672" y="662" width="7" height="25" fill="#000"/>
<rect x="673" y="663" width="5" height="23" fill="#fff"/>
<rect x="686" y="573" width="1" height="56" fill="#000"/>
<rect x="683" y="618" width="7" height="6" fill="#000"/>
<rect x="684" y="619" width="5" height="4" fill="#fff"/>
<rect x="697" y="616" width="1" height="32" fill="#000"/>
<rect x="694" y="616" width="7" height="15" fill="#000"/>
<rect x="695" y="617" width="5" height="13" fill="#fff"/>
<rect x="707" y="598" width="1" height="143" fill="#000"/>
<rect x="704" y="605" width="7" height="112" fill="#000"/>
<rect x="718" y="678" width="1" height="100" fill="#000"/>
<rect x="715" y="718" width="7" height="40" fill="#000"/>
<rect x="716" y="719" width="5" height="38" fill="#fff"/>
<rect x="728" y="681" width="1" height="39" fill="#000"/>
<rect x="725" y="699" width="7" height="18" fill="#000"/>
<rect x="726" y="700" width="5" height="16" fill="#fff"/>
<rect x="739" y="683" width="1" height="51" fill="#000"/>
<rect x="736" y="694" width="7" height="3" fill="#000"/>
<rect x="737" y="695" width="5" height="1" fill="#fff"/>
<rect x="750" y="677" width="1" height="112" fill="#000"/>
<rect x="747" y="687" width="7" height="102" fill="#000"/>
<rect x="760" y="772" width="1" height="65" fill="#000"/>
<rect x="757" y="772" width="7" height="8" fill="#000"/>
<rect x="758" y="773" width="5" height="6" fill="#fff"/>
<rect x="771" y="770" width="1" height="39" fill="#000"/>
<rect x="768" y="774" width="7" height="30" fill="#000"/>
<rect x="781" y="765" width="1" height="73" fill="#000"/>
<rect x="778" y="768" width="7" height="34" fill="#000"/>
<rect x="779" y="769" width="5" height="32" fill="#fff"/>
<rect x="792" y="737" width="1" height="33" fill="#000"/>
<rect x="789" y="752" width="7" height="11" fill="#000"/>
<rect x="790" y="753" width="5" height="9" fill="#fff"/>
<rect x="803" y="738" width="1" height="55" fill="#000"/>
<rect x="800" y="758" width="7" height="35" fill="#000"/>
<rect x="813" y="759" width="1" height="48" fill="#000"/>
<rect x="810" y="761" width="7" height="10" fill="#000"/>
<rect x="811" y="762" width="5" height="8" fill="#fff"/>
<rect x="824" y="687" width="1" height="63" fill="#000"/>
<rect x="821" y="704" width="7" height="45" fill="#000"/>
<rect x="822" y="705" width="5" height="43" fill="#fff"/>
<rect x="834" y="696" width="1" height="42" fill="#000"/>
<rect x="831" y="701" width="7" height="27" fill="#000"/>
<rect x="845" y="696" width="1" height="32" fill="#000"/>
<rect x="842" y="696" width="7" height="28" fill="#000"/>
<rect x="843" y="697" width="5" height="26" fill="#fff"/>
<rect x="856" y="676" width="1" height="65" fill="#000"/>
<rect x="853" y="689" width="7" height="7" fill="#000"/>
<rect x="854" y="690" width="5" height="5" fill="#fff"/>
<rect x="866" y="663" width="1" height="32" fill="#000"/>
<rect x="863" y="677" width="7" height="13" fill="#000"/>
<rect x="864" y="678" width="5" height="11" fill="#fff"/>
<rect x="877" y="659" width="1" height="29" fill="#000"/>
<rect x="874" y="663" width="7" height="6" fill="#000"/>
<rect x="888" y="655" width="1" height="21" fill="#000"/>
<rect x="885" y="655" width="7" height="8" fill="#000"/>
<rect x="886" y="656" width="5" height="6" fill="#fff"/>
<rect x="898" y="643" width="1" height="66" fill="#000"/>
<rect x="895" y="648" width="7" height="58" fill="#000"/>
<rect x="909" y="683" width="1" height="36" fill="#000"/>
<rect x="906" y="690" width="7" height="24" fill="#000"/>
<rect x="919" y="704" width="1" height="34" fill="#000"/>
<rect x="916" y="711" width="7" height="27" fill="#000"/>
<rect x="930" y="730" width="1" height="58" fill="#000"/>
<rect x="927" y="733" width="7" height="49" fill="#000"/>
<rect x="941" y="756" width="1" height="54" fill="#000"/>
<rect x="938" y="756" width="7" height="30" fill="#000"/>
<rect x="939" y="757" width="5" height="28" fill="#fff"/>
<rect x="951" y="737" width="1" height="31" fill="#000"/>
<rect x="948" y="739" width="7" height="17" fill="#000"/>
<rect x="949" y="740" width="5" height="15" fill="#fff"/>
<rect x="962" y="736" width="1" height="28" fill="#000"/>
<rect x="959" y="737" width="7" height="17" fill="#000"/>
<rect x="960" y="738" width="5" height="15" fill="#fff"/>
<rect x="972" y="730" width="1" height="22" fill="#000"/>
<rect x="969" y="737" width="7" height="2" fill="#000"/>
<rect x="983" y="681" width="1" height="49" fill="#000"/>
<rect x="980" y="687" width="7" height="43" fill="#000"/>
<rect x="981" y="688" width="5" height="41" fill="#fff"/>
<rect x="994" y="668" width="1" height="22" fill="#000"/>
<rect x="991" y="675" width="7" height="11" fill="#000"/>
<rect x="992" y="676" width="5" height="9" fill="#fff"/>
<rect x="1004" y="657" width="1" height="17" fill="#000"/>
<rect x="1001" y="671" width="7" height="3" fill="#000"/>
<rect x="1015" y="627" width="1" height="49" fill="#000"/>
<rect x="1012" y="630" width="7" height="42" fill="#000"/>
<rect x="1013" y="631" width="5" height="40" fill="#fff"/>
<rect x="1025" y="604" width="1" height="20" fill="#000"/>
<rect x="1022" y="620" width="7" height="3" fill="#000"/>
<rect x="1023" y="621" width="5" height="1" fill="#fff"/>
<rect x="1036" y="590" width="1" height="35" fill="#000"/>
<rect x="1033" y="600" width="7" height="20" fill="#000"/>
<rect x="1047" y="573" width="1" height="63" fill="#000"/>
<rect x="1044" y="573" width="7" height="47" fill="#000"/>
<rect x="1045" y="574" width="5" height="45" fill="#fff"/>
<rect x="1057" y="496" width="1" height="78" fill="#000"/>
<rect x="1054" y="533" width="7" height="38" fill="#000"/>
<rect x="1055" y="534" width="5" height="36" fill="#fff"/>
<rect x="1068" y="516" width="1" height="30" fill="#000"/>
<rect x="1065" y="517" width="7" height="16" fill="#000"/>
<rect x="1066" y="518" width="5" height="14" fill="#fff"/>
<rect x="1079" y="486" width="1" height="36" fill="#000"/>
<rect x="1076" y="506" width="7" height="4" fill="#000"/>
<rect x="1089" y="504" width="1" height="31" fill="#000"/>
<rect x="1086" y="508" width="7" height="13" fill="#000"/>
<rect x="1100" y="490" width="1" height="36" fill="#000"/>
<rect x="1097" y="512" width="7" height="8" fill="#000"/>
<rect x="1098" y="513" width="5" height="6" fill="#fff"/>
<rect x="1110" y="478" width="1" height="45" fill="#000"/>
<rect x="1107" y="504" width="7" height="6" fill="#000"/>
<rect x="1121" y="493" width="1" height="64" fill="#000"/>
<rect x="1118" y="508" width="7" height="8" fill="#000"/>
<rect x="1119" y="509" width="5" height="6" fill="#fff"/>
<rect x="1132" y="479" width="1" height="38" fill="#000"/>
<rect x="1129" y="493" width="7" height="24" fill="#000"/>
<rect x="1142" y="486" width="1" height="51" fill="#000"/>
<rect x="1139" y="486" width="7" height="43" fill="#000"/>
<rect x="1140" y="487" width="5" height="41" fill="#fff"/>
<rect x="1153" y="462" width="1" height="40" fill="#000"/>
<rect x="1150" y="488" width="7" height="11" fill="#000"/>
<rect x="1163" y="467" width="1" height="32" fill="#000"/>
<rect x="1160" y="473" width="7" height="20" fill="#000"/>
<rect x="1161" y="474" width="5" height="18" fill="#fff"/>
<rect x="1174" y="434" width="1" height="30" fill="#000"/>
<rect x="1171" y="434" width="7" height="30" fill="#000"/>
<rect x="1172" y="435" width="5" height="28" fill="#fff"/>
<rect x="1185" y="408" width="1" height="33" fill="#000"/>
<rect x="1182" y="417" width="7" height="3" fill="#000"/>
<rect x="1195" y="406" width="1" height="43" fill="#000"/>
<rect x="1192" y="412" width="7" height="27" fill="#000"/>
<rect x="1206" y="424" width="1" height="33" fill="#000"/>
<rect x="1203" y="444" width="7" height="11" fill="#000"/>
<rect x="1216" y="449" width="1" height="23" fill="#000"/>
<rect x="1213" y="450" width="7" height="11" fill="#000"/>
<rect x="1227" y="435" width="1" height="18" fill="#000"/>
<rect x="1224" y="442" width="7" height="11" fill="#000"/>
<rect x="1225" y="443" width="5" height="9" fill="#fff"/>
<rect x="1238" y="432" width="1" height="26" fill="#000"/>
<rect x="1235" y="436" width="7" height="20" fill="#000"/>
<rect x="1248" y="443" width="1" height="19" fill="#000"/>
<rect x="1245" y="446" width="7" height="11" fill="#000"/>
<rect x="1246" y="447" width="5" height="9" fill="#fff"/>
<rect x="1259" y="434" width="1" height="75" fill="#000"/>
<rect x="1256" y="440" width="7" height="60" fill="#000"/>
<rect x="1270" y="467" width="1" height="37" fill="#000"/>
<rect x="1267" y="475" width="7" height="29" fill="#000"/>
<rect x="1268" y="476" width="5" height="27" fill="#fff"/>
<rect x="1280" y="456" width="1" height="25" fill="#000"/>
<rect x="1277" y="470" width="7" height="3" fill="#000"/>
<rect x="1278" y="471" width="5" height="1" fill="#fff"/>
<rect x="1291" y="378" width="1" height="87" fill="#000"/>
<rect x="1288" y="392" width="7" height="72" fill="#000"/>
<rect x="1289" y="393" width="5" height="70" fill="#fff"/>
<rect x="1301" y="369" width="1" height="25" fill="#000"/>
<rect x="1298" y="384" width="7" height="2" fill="#000"/>
<rect x="1312" y="332" width="1" height="47" fill="#000"/>
<rect x="1309" y="339" width="7" height="40" fill="#000"/>
<rect x="1310" y="340" width="5" height="38" fill="#fff"/>
<rect x="1323" y="292" width="1" height="44" fill="#000"/>
<rect x="1320" y="323" width="7" height="13" fill="#000"/>
<rect x="1321" y="324" width="5" height="11" fill="#fff"/>
<rect x="1333" y="298" width="1" height="24" fill="#000"/>
<rect x="1330" y="298" width="7" height="12" fill="#000"/>
<rect x="1331" y="299" width="5" height="10" fill="#fff"/>
<rect x="1344" y="244" width="1" height="45" fill="#000"/>
<rect x="1341" y="244" width="7" height="40" fill="#000"/>
<rect x="1342" y="245" width="5" height="38" fill="#fff"/>
<rect x="1354" y="231" width="1" height="28" fill="#000"/>
<rect x="1351" y="238" width="7" height="2" fill="#000"/>
<rect x="1365" y="216" width="1" height="49" fill="#000"/>
<rect x="1362" y="237" width="7" height="5" fill="#000"/>
<rect x="1363" y="238" width="5" height="3" fill="#fff"/>
<rect x="1376" y="232" width="1" height="25" fill="#000"/>
<rect x="1373" y="237" width="7" height="9" fill="#000"/>
<rect x="1386" y="189" width="1" height="115" fill="#000"/>
<rect x="1383" y="240" width="7" height="64" fill="#000"/>
<rect x="1397" y="263" width="1" height="49" fill="#000"/>
<rect x="1394" y="267" width="7" height="34" fill="#000"/>
<rect x="1395" y="268" width="5" height="32" fill="#fff"/>
<rect x="1407" y="216" width="1" height="45" fill="#000"/>
<rect x="1404" y="217" width="7" height="33" fill="#000"/>
<rect x="1405" y="218" width="5" height="31" fill="#fff"/>
<rect x="1418" y="157" width="1" height="64" fill="#000"/>
<rect x="1415" y="157" width="7" height="46" fill="#000"/>
<rect x="1416" y="158" width="5" height="44" fill="#fff"/>
<rect x="1429" y="117" width="1" height="64" fill="#000"/>
<rect x="1426" y="144" width="7" height="12" fill="#000"/>
<rect x="1439" y="144" width="1" height="35" fill="#000"/>
<rect x="1436" y="150" width="7" height="2" fill="#000"/>
<rect x="1450" y="122" width="1" height="43" fill="#000"/>
<rect x="1447" y="137" width="7" height="10" fill="#000"/>
<rect x="1461" y="105" width="1" height="53" fill="#000"/>
<rect x="1458" y="105" width="7" height="38" fill="#000"/>
<rect x="1459" y="106" width="5" height="36" fill="#fff"/>
<rect x="1471" y="78" width="1" height="82" fill="#000"/>
<rect x="1468" y="105" width="7" height="33" fill="#000"/>
<rect x="1482" y="106" width="1" height="47" fill="#000"/>
<rect x="1479" y="118" width="7" height="18" fill="#000"/>
<rect x="1480" y="119" width="5" height="16" fill="#fff"/>
<rect x="1492" y="101" width="1" height="109" fill="#000"/>
<rect x="1489" y="115" width="7" height="95" fill="#000"/>
<rect x="1503" y="191" width="1" height="78" fill="#000"/>
<rect x="1500" y="209" width="7" height="53" fill="#000"/>
<rect x="1514" y="227" width="1" height="44" fill="#000"/>
<rect x="1511" y="237" width="7" height="30" fill="#000"/>
<rect x="1512" y="238" width="5" height="28" fill="#fff"/>
</g>
<line x1="2" y1="237.5" x2="1552" y2="237.5" stroke="#000" stroke-width="1" stroke-dasharray="1 2" shape-rendering="crispEdges"/>
<rect x="1609" y="0" width="1.1" height="1128" fill="#2a2e39"/>
<rect x="0" y="1090.7" width="1689" height="1.4" fill="#2a2e39"/>
<text transform="translate(1621.30,43.50) scale(1,1.07)" style="fill:#131722;stroke:#131722;stroke-width:0.35px" letter-spacing="0.3">1300.00</text>
<text transform="translate(1621.30,112.50) scale(1,1.07)" style="fill:#131722;stroke:#131722;stroke-width:0.35px" letter-spacing="0.3">1280.00</text>
<text transform="translate(1621.30,181.50) scale(1,1.07)" style="fill:#131722;stroke:#131722;stroke-width:0.35px" letter-spacing="0.3">1260.00</text>
<text transform="translate(1621.30,319.50) scale(1,1.07)" style="fill:#131722;stroke:#131722;stroke-width:0.35px" letter-spacing="0.3">1220.00</text>
<text transform="translate(1621.30,389.50) scale(1,1.07)" style="fill:#131722;stroke:#131722;stroke-width:0.35px" letter-spacing="0.3">1200.00</text>
<text transform="translate(1621.30,458.50) scale(1,1.07)" style="fill:#131722;stroke:#131722;stroke-width:0.35px" letter-spacing="0.3">1180.00</text>
<text transform="translate(1621.30,527.50) scale(1,1.07)" style="fill:#131722;stroke:#131722;stroke-width:0.35px" letter-spacing="0.3">1160.00</text>
<text transform="translate(1621.30,596.50) scale(1,1.07)" style="fill:#131722;stroke:#131722;stroke-width:0.35px" letter-spacing="0.3">1140.00</text>
<text transform="translate(1621.30,665.50) scale(1,1.07)" style="fill:#131722;stroke:#131722;stroke-width:0.35px" letter-spacing="0.3">1120.00</text>
<text transform="translate(1621.30,734.50) scale(1,1.07)" style="fill:#131722;stroke:#131722;stroke-width:0.35px" letter-spacing="0.3">1100.00</text>
<text transform="translate(1621.30,803.50) scale(1,1.07)" style="fill:#131722;stroke:#131722;stroke-width:0.35px" letter-spacing="0.3">1080.00</text>
<text transform="translate(1621.30,873.50) scale(1,1.07)" style="fill:#131722;stroke:#131722;stroke-width:0.35px" letter-spacing="0.3">1060.00</text>
<text transform="translate(1621.30,942.50) scale(1,1.07)" style="fill:#131722;stroke:#131722;stroke-width:0.35px" letter-spacing="0.3">1040.00</text>
<text transform="translate(1621.30,1011.50) scale(1,1.07)" style="fill:#131722;stroke:#131722;stroke-width:0.35px" letter-spacing="0.3">1020.00</text>
<text transform="translate(1621.30,1080.50) scale(1,1.07)" style="fill:#131722;stroke:#131722;stroke-width:0.35px" letter-spacing="0.3">1000.00</text>
<path d="M1555 224H1608V251H1555a3 3 0 0 1-3-3V227a3 3 0 0 1 3-3Z" fill="#000"/>
<rect x="1610" y="224" width="79" height="26.7" fill="#000"/>
<text transform="translate(1560.00,244.00) scale(1,1.07)" style="fill:#fff;stroke:#fff;stroke-width:0.35px" letter-spacing="-0.4">VN30</text>
<text transform="translate(1621.30,244.00) scale(1,1.07)" style="fill:#fff;stroke:#fff;stroke-width:0.35px" letter-spacing="0.1">1242.23</text>
<text transform="translate(145.28,1119.20) scale(1,1.07)" style="fill:#131722;stroke:#131722;stroke-width:0.35px" text-anchor="middle">Sep</text>
<text transform="translate(346.89,1119.20) scale(1,1.07)" style="fill:#131722;stroke:#131722;stroke-width:0.35px" text-anchor="middle">Oct</text>
<text transform="translate(580.33,1119.20) scale(1,1.07)" style="fill:#131722;stroke:#131722;stroke-width:0.35px" text-anchor="middle">Nov</text>
<text transform="translate(813.76,1119.20) scale(1,1.07)" style="fill:#131722;stroke:#131722;stroke-width:0.35px" text-anchor="middle">Dec</text>
<text transform="translate(1036.24,1119.20) scale(1,1.07)" style="fill:#131722;stroke:#131722;stroke-width:0.1px" font-weight="bold" letter-spacing="0.7" text-anchor="middle">2024</text>
<text transform="translate(1270.03,1119.20) scale(1,1.07)" style="fill:#131722;stroke:#131722;stroke-width:0.35px" text-anchor="middle">Feb</text>
<text transform="translate(1439.80,1119.20) scale(1,1.07)" style="fill:#131722;stroke:#131722;stroke-width:0.35px" text-anchor="middle">Mar</text>
<text transform="translate(1567.13,1119.20) scale(1,1.07)" style="fill:#131722;stroke:#131722;stroke-width:0.35px" text-anchor="middle">19</text>
<g fill="none" stroke="#131722" stroke-width="1.6" stroke-linejoin="round"><path d="M1643.9 1112.4L1648.8 1104H1659.2L1664.1 1112.4L1659.2 1120.7H1648.8Z"/><circle cx="1654" cy="1112.4" r="3"/></g>
</svg></body></html>
